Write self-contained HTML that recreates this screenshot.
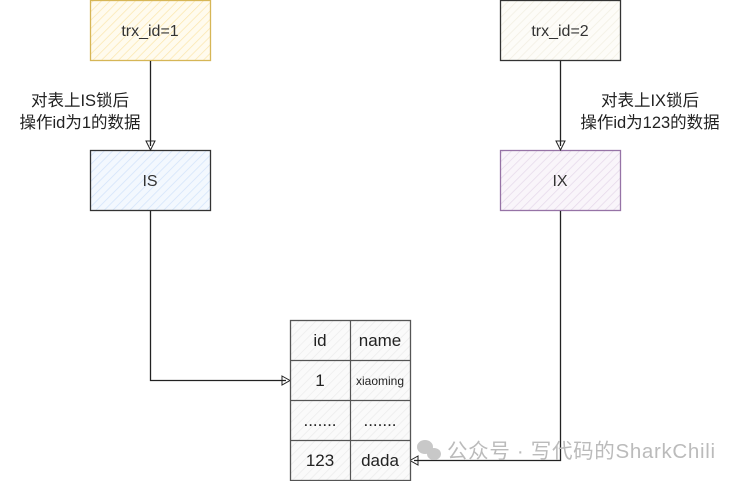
<!DOCTYPE html>
<html><head><meta charset="utf-8"><style>
body{margin:0;background:#fff;width:740px;height:481px;overflow:hidden}
svg text{font-family:"Liberation Sans","Noto Sans CJK SC",sans-serif}
</style></head><body>
<svg width="740" height="481" viewBox="0 0 740 481" xmlns="http://www.w3.org/2000/svg">
<defs>
<pattern id="hy" width="6" height="6" patternUnits="userSpaceOnUse" patternTransform="rotate(45)"><rect width="6" height="6" fill="#fffbee"/><line x1="0" y1="0" x2="0" y2="6" stroke="#fbe7b0" stroke-width="1.5"/></pattern>
<pattern id="hb" width="6" height="6" patternUnits="userSpaceOnUse" patternTransform="rotate(45)"><rect width="6" height="6" fill="#f3f8fe"/><line x1="0" y1="0" x2="0" y2="6" stroke="#d2e3fa" stroke-width="1.5"/></pattern>
<pattern id="hp" width="6" height="6" patternUnits="userSpaceOnUse" patternTransform="rotate(45)"><rect width="6" height="6" fill="#f9f5fa"/><line x1="0" y1="0" x2="0" y2="6" stroke="#e6d9ea" stroke-width="1.5"/></pattern>
<pattern id="hw" width="6" height="6" patternUnits="userSpaceOnUse" patternTransform="rotate(45)"><rect width="6" height="6" fill="#fdfcf8"/><line x1="0" y1="0" x2="0" y2="6" stroke="#f2efe2" stroke-width="1.5"/></pattern>
<pattern id="hg" width="6" height="6" patternUnits="userSpaceOnUse" patternTransform="rotate(45)"><rect width="6" height="6" fill="#fafafa"/><line x1="0" y1="0" x2="0" y2="6" stroke="#ececec" stroke-width="1.5"/></pattern>
</defs>
<rect x="90.5" y="0.5" width="120" height="60" fill="url(#hy)" stroke="#d6b656" stroke-width="1.3"/>
<text x="150" y="36" font-size="16" text-anchor="middle" fill="#333">trx_id=1</text>
<rect x="90.5" y="150.5" width="120" height="60" fill="url(#hb)" stroke="#333" stroke-width="1.3"/>
<text x="150" y="186" font-size="16" text-anchor="middle" fill="#333">IS</text>
<rect x="500.5" y="0.5" width="120" height="60" fill="url(#hw)" stroke="#333" stroke-width="1.3"/>
<text x="560" y="36" font-size="16" text-anchor="middle" fill="#333">trx_id=2</text>
<rect x="500.5" y="150.5" width="120" height="60" fill="url(#hp)" stroke="#9673a6" stroke-width="1.3"/>
<text x="560" y="186" font-size="16" text-anchor="middle" fill="#333">IX</text>
<line x1="150.5" y1="61" x2="150.5" y2="146" stroke="#222" stroke-width="1.3"/>
<path d="M146 141 L150.5 150 L155 141 Z" fill="none" stroke="#222"/>
<line x1="560.5" y1="61" x2="560.5" y2="146" stroke="#222" stroke-width="1.3"/>
<path d="M556 141 L560.5 150 L565 141 Z" fill="none" stroke="#222"/>
<text x="80" y="106" font-size="16.5" text-anchor="middle" fill="#222">对表上IS锁后</text>
<text x="80" y="128" font-size="16.5" text-anchor="middle" fill="#222">操作id为1的数据</text>
<text x="650" y="106" font-size="16.5" text-anchor="middle" fill="#222">对表上IX锁后</text>
<text x="650" y="128" font-size="16.5" text-anchor="middle" fill="#222">操作id为123的数据</text>
<path d="M150.5 211 V380.5 H286" fill="none" stroke="#222" stroke-width="1.3"/>
<path d="M282 376 L290 380.5 L282 385 Z" fill="none" stroke="#222"/>
<path d="M560.5 211 V460.5 H414" fill="none" stroke="#222" stroke-width="1.3"/>
<path d="M418 456 L410 460.5 L418 465 Z" fill="none" stroke="#222"/>
<rect x="290.5" y="320.5" width="120" height="160" fill="url(#hg)" stroke="#555" stroke-width="1.3"/>
<g stroke="#555" stroke-width="1.2">
<line x1="350.5" y1="320" x2="350.5" y2="480"/>
<line x1="290" y1="360.5" x2="410" y2="360.5"/>
<line x1="290" y1="400.5" x2="410" y2="400.5"/>
<line x1="290" y1="440.5" x2="410" y2="440.5"/>
</g>
<g font-size="17" text-anchor="middle" fill="#222">
<text x="320" y="346">id</text><text x="380" y="346">name</text>
<text x="320" y="386">1</text><text x="380" y="385" font-size="12">xiaoming</text>
<text x="320" y="426">.......</text><text x="380" y="426">.......</text>
<text x="320" y="466">123</text><text x="380" y="466">dada</text>
</g>
<g fill="#c8c8c8"><ellipse cx="425" cy="447" rx="8" ry="7"/><ellipse cx="434" cy="454" rx="7" ry="6"/></g>
<text x="447" y="458" font-size="20.5" fill="#bbb" textLength="268">公众号 · 写代码的SharkChili</text>
</svg>
</body></html>
